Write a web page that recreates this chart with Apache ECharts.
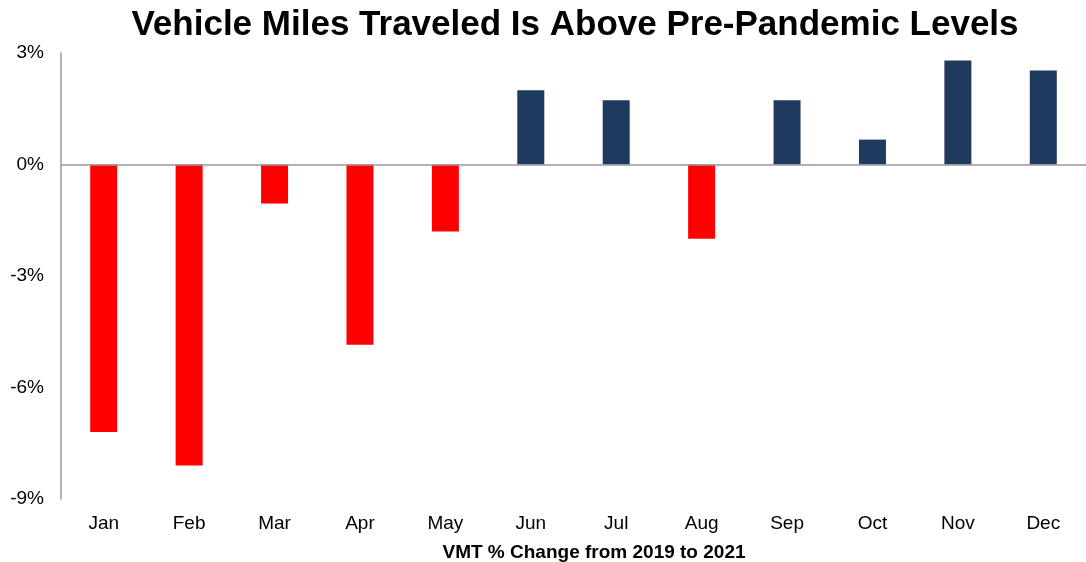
<!DOCTYPE html>
<html>
<head>
<meta charset="utf-8">
<script src="https://cdn.jsdelivr.net/npm/echarts@6/dist/echarts.min.js"></script>
<style>
html,body{margin:0;padding:0;background:#fff;}
#chart{width:1086px;height:562px;}
</style>
</head>
<body>
<div id="chart"></div>
<script>
const months = ['Jan','Feb','Mar','Apr','May','Jun','Jul','Aug','Sep','Oct','Nov','Dec'];
const vmtChange = [-7.2, -8.1, -1.05, -4.85, -1.8, 2.0, 1.73, -2.0, 1.73, 0.67, 2.8, 2.53];
const yTicks = [-9, -6, -3, 0, 3];

const chart = echarts.init(document.getElementById('chart'));
chart.setOption({
  backgroundColor: '#ffffff',
  animation: false,
  title: [
    {
      text: 'Vehicle Miles Traveled Is Above Pre-Pandemic Levels',
      left: 570, top: 3, textAlign: 'center',
      textStyle: {fontFamily: 'Liberation Sans, Arial', fontWeight: 'bold', fontSize: 35, color: '#000'}
    },
    {
      text: 'VMT % Change from 2019 to 2021',
      left: 589, top: 538, textAlign: 'center',
      textStyle: {fontFamily: 'Liberation Sans, Arial', fontWeight: 'bold', fontSize: 19, color: '#000'}
    }
  ],
  grid: {left: 61, width: 1035, top: 53, height: 446, containLabel: false},
  xAxis: {
    type: 'category',
    data: months,
    axisLine: {show: false},
    axisTick: {show: false},
    axisLabel: {fontFamily: 'Liberation Sans, Arial', fontSize: 19, color: '#000', margin: 15, interval: 0}
  },
  yAxis: {
    type: 'value',
    min: yTicks[0], max: yTicks[yTicks.length - 1], interval: 3,
    splitLine: {show: false},
    axisTick: {show: false},
    axisLine: {show: true, lineStyle: {color: '#999', width: 1.5}},
    axisLabel: {fontFamily: 'Liberation Sans, Arial', fontSize: 19, color: '#000', margin: 17, formatter: '{value}%'}
  },
  series: [{
    type: 'bar',
    data: vmtChange,
    barWidth: 27,
    itemStyle: {
      color: p => p.value < 0 ? '#FF0000' : '#1F3A5F'
    },
    markLine: {
      silent: true,
      symbol: 'none',
      label: {show: false},
      lineStyle: {color: '#999', width: 1.5, type: 'solid'},
      data: [{yAxis: 0}]
    }
  }]
});
</script>
</body>
</html>
